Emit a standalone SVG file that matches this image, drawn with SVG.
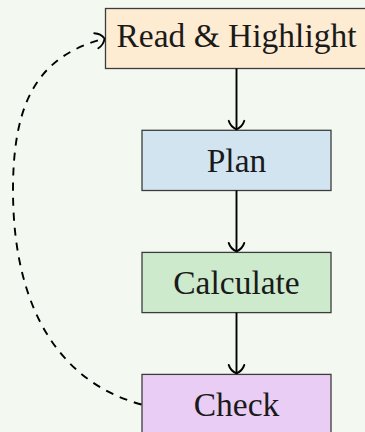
<svg xmlns="http://www.w3.org/2000/svg" width="365" height="432" viewBox="0 0 365 432">
<style>
.box{stroke:#3c3c3c;stroke-width:1.3}
.lbl{font-family:"Liberation Serif","Times New Roman",serif;font-size:33.5px;fill:#1a1a1a;text-anchor:middle}
.edge{fill:none;stroke:#000;stroke-width:1.9}
.dash{stroke-dasharray:8 7}
</style>
<defs>
<marker id="to" markerUnits="userSpaceOnUse" markerWidth="22" markerHeight="22" refX="11" refY="11" orient="auto">
<path d="M2.5,3.2 C6,4.3 9.5,7.2 11,11 C9.5,14.8 6,17.7 2.5,18.8" fill="none" stroke="#000" stroke-width="1.9" stroke-linecap="round" stroke-linejoin="round"/>
</marker>
</defs>
<rect width="365" height="432" fill="#f3f9f1"/>
<g id="read">
<rect class="box" x="105.5" y="8.5" width="262" height="60" fill="#fdebd2"/>
<text class="lbl" x="236.5" y="46.7">Read &amp; Highlight</text>
</g>
<g id="plan">
<rect class="box" x="142" y="130.3" width="189" height="60.2" fill="#d3e4f1"/>
<text class="lbl" x="236.5" y="172.3">Plan</text>
</g>
<g id="calculate">
<rect class="box" x="142" y="252.4" width="189" height="60.2" fill="#cdeacd"/>
<text class="lbl" x="236.5" y="294">Calculate</text>
</g>
<g id="check">
<rect class="box" x="142" y="374.4" width="189" height="60.2" fill="#eacdf4"/>
<text class="lbl" x="236.5" y="415.7">Check</text>
</g>
<g id="connectors">
<path class="edge" d="M236.5,68.5 V129.3" marker-end="url(#to)"/>
<path class="edge" d="M236.5,190.5 V251.4" marker-end="url(#to)"/>
<path class="edge" d="M236.5,312.6 V373.4" marker-end="url(#to)"/>
<path class="edge dash" d="M141.5,404.5 C64.7,383.8 13,315 13,190 C13,95 42.2,55.3 104.5,38.5" marker-end="url(#to)"/>
</g>
</svg>
